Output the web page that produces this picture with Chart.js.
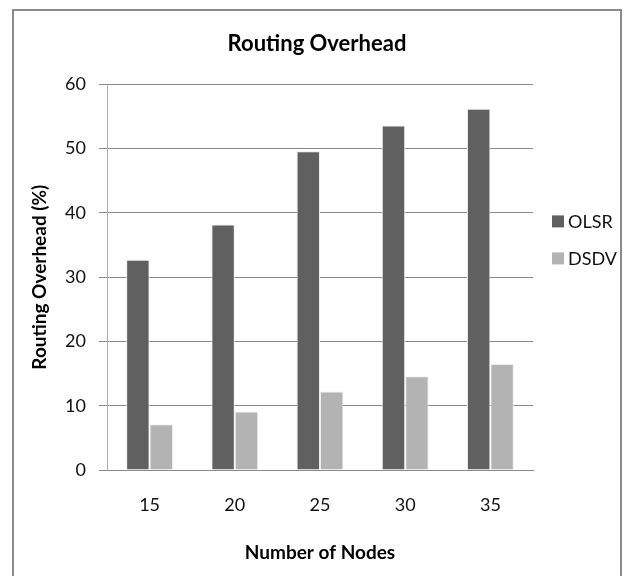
<!DOCTYPE html>
<html>
<head>
<meta charset="utf-8">
<script src="https://cdn.jsdelivr.net/npm/chart.js@4/dist/chart.umd.min.js"></script>
<style>
  html, body { margin: 0; padding: 0; background: #ffffff; }
  #wrap { position: relative; width: 625px; height: 576px; }
</style>
</head>
<body>
<div id="wrap"><canvas id="chart" width="625" height="576"></canvas></div>
<script>
// Routing overhead (%) by network size
const nodeCounts = ['15', '20', '25', '30', '35'];
const olsrOverhead = [32.7, 38.2, 49.6, 53.6, 56.2];
const dsdvOverhead = [7.1, 9.1, 12.2, 14.6, 16.5];
const seriesNames = ['OLSR', 'DSDV'];
const seriesColors = ['#606060', '#b3b3b3'];

const FONT = 'Lato, "DejaVu Sans", sans-serif';

// Outer frame around the chart
const framePlugin = {
  id: 'frame',
  beforeDraw(chart) {
    const ctx = chart.ctx;
    ctx.save();
    ctx.strokeStyle = '#8a8a8a';
    ctx.lineWidth = 2;
    ctx.strokeRect(13, 10, 608, 600);
    ctx.restore();
  }
};

// Legend drawn to the right of the plot, one square swatch per series
const sideLegend = {
  id: 'sideLegend',
  afterDraw(chart) {
    const ctx = chart.ctx;
    const area = chart.chartArea;
    ctx.save();
    ctx.font = '18px ' + FONT;
    ctx.textBaseline = 'middle';
    ctx.textAlign = 'left';
    chart.data.datasets.forEach((ds, i) => {
      const cy = area.top + 137 + i * 37;
      const x = area.right + 19;
      ctx.fillStyle = ds.backgroundColor;
      ctx.fillRect(x, cy - 6, 12, 12);
      ctx.fillStyle = '#111111';
      ctx.fillText(ds.label, x + 16, cy + 1);
    });
    ctx.restore();
  }
};

new Chart(document.getElementById('chart'), {
  type: 'bar',
  data: {
    labels: nodeCounts,
    datasets: [
      {
        label: seriesNames[0],
        data: olsrOverhead,
        backgroundColor: seriesColors[0],
        borderColor: '#eeeeee',
        borderWidth: 1
      },
      {
        label: seriesNames[1],
        data: dsdvOverhead,
        backgroundColor: seriesColors[1],
        borderColor: '#eeeeee',
        borderWidth: 1
      }
    ]
  },
  options: {
    responsive: false,
    animation: false,
    devicePixelRatio: 1,
    layout: { padding: { left: 9, right: 0, top: 0, bottom: 0 } },
    datasets: {
      bar: { categoryPercentage: 0.55, barPercentage: 1.0 }
    },
    plugins: {
      legend: { display: false },
      tooltip: { enabled: false },
      title: {
        display: true,
        text: 'Routing Overhead',
        color: '#000000',
        font: { family: FONT, size: 22, weight: 'bold' },
        padding: { top: 31, bottom: 27 }
      }
    },
    scales: {
      x: {
        grid: { display: false, drawTicks: false },
        border: { display: true, color: '#8a8a8a', width: 1 },
        ticks: {
          color: '#111111',
          font: { family: FONT, size: 18 },
          padding: 24
        },
        title: {
          display: true,
          text: 'Number of Nodes',
          color: '#000000',
          font: { family: FONT, size: 19, weight: 'bold' },
          padding: { top: 24, bottom: 12 }
        },
        afterFit(scale) { scale.height = 106; }
      },
      y: {
        min: 0,
        max: 60,
        ticks: {
          stepSize: 10,
          color: '#111111',
          font: { family: FONT, size: 18 },
          padding: 13
        },
        grid: {
          color: '#8a8a8a',
          lineWidth: 1,
          drawTicks: true,
          tickLength: 8
        },
        border: { display: true, color: '#ababab', width: 1 },
        title: {
          display: true,
          text: 'Routing Overhead (%)',
          color: '#000000',
          font: { family: FONT, size: 19, weight: 'bold' },
          padding: { top: 19, bottom: 0 }
        },
        afterFit(scale) { scale.width = 98; }
      },
      legendSpace: {
        type: 'linear',
        position: 'right',
        display: true,
        grid: { display: false, drawTicks: false },
        border: { display: false },
        ticks: { display: false },
        afterFit(scale) { scale.width = 92; }
      }
    }
  },
  plugins: [framePlugin, sideLegend]
});
</script>
</body>
</html>
